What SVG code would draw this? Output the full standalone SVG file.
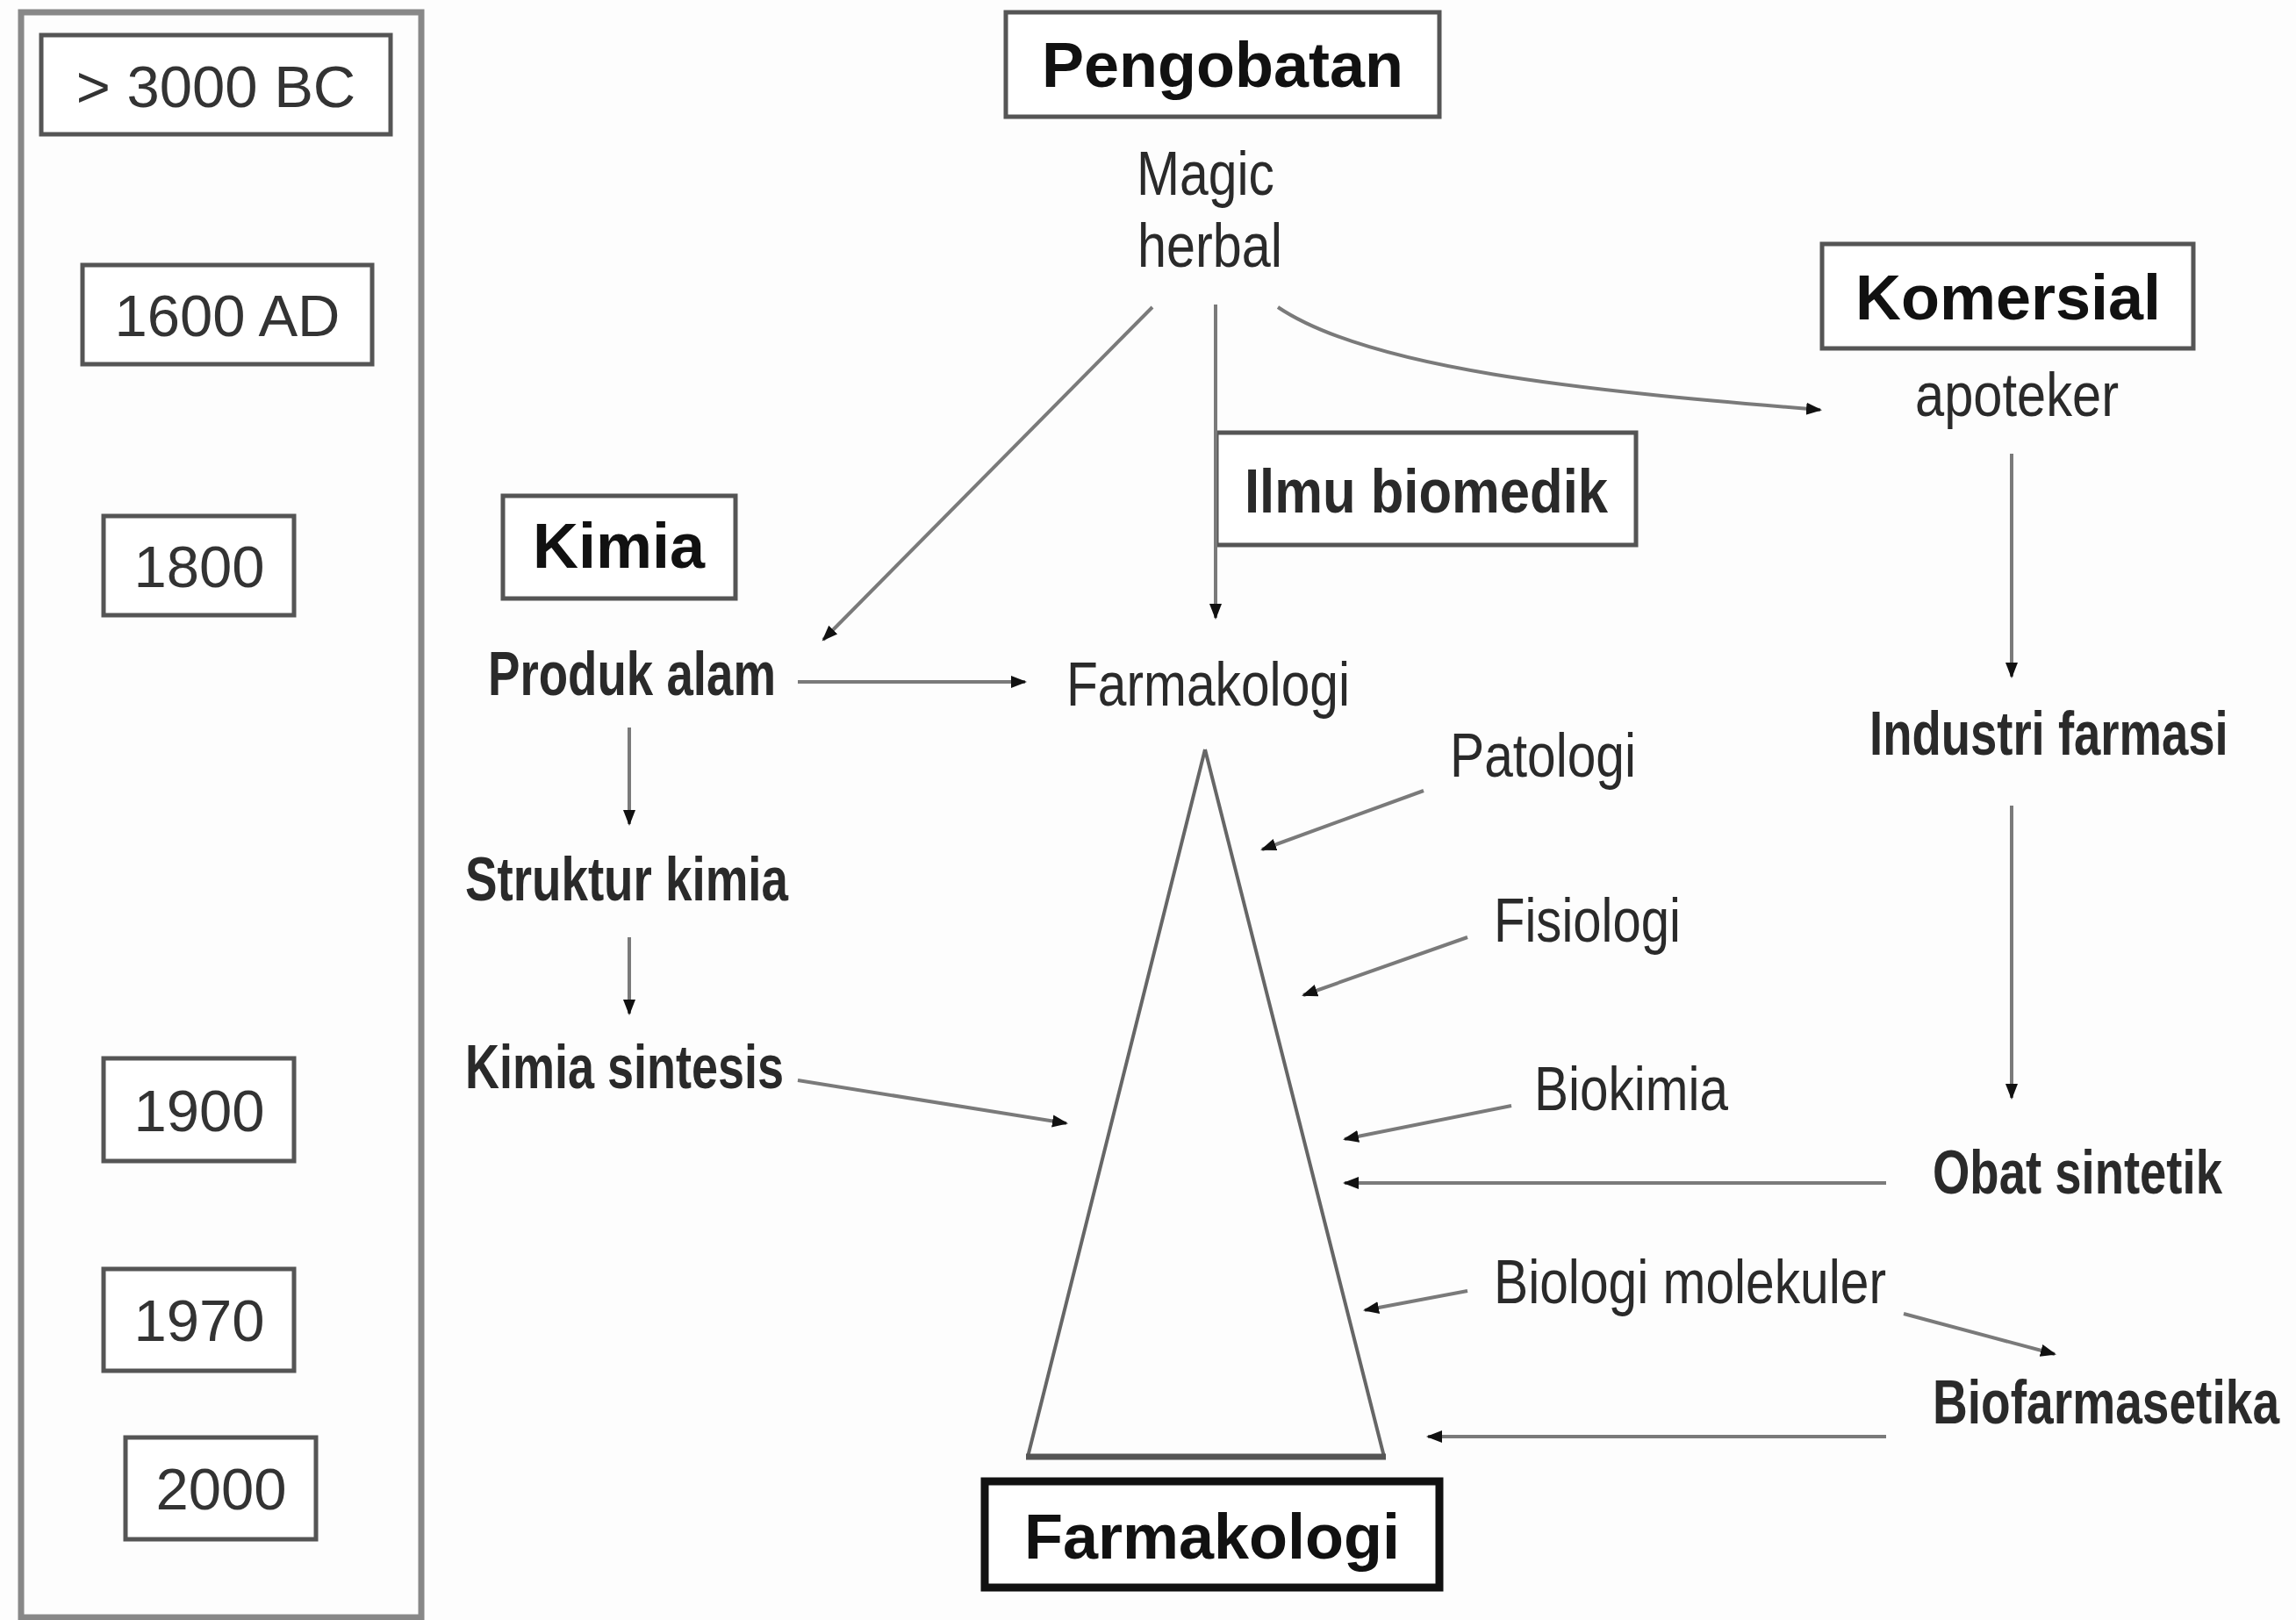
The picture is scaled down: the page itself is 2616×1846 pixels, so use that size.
<svg xmlns="http://www.w3.org/2000/svg" width="2616" height="1846" viewBox="0 0 2616 1846">
<style>
.bg{fill:#fdfdfd}
.yr{fill:#fff;stroke:#555;stroke-width:5}
.yt{font-family:"Liberation Sans",Arial,sans-serif;font-size:67px;fill:#333;text-anchor:middle}
.hd{fill:#fff;stroke:#555;stroke-width:5}
.ht{font-family:"Liberation Sans",Arial,sans-serif;font-weight:bold;font-size:72px;fill:#111;text-anchor:middle}
.lb{font-family:"Liberation Sans",Arial,sans-serif;font-size:70px;fill:#2a2a2a}
.lbb{font-family:"Liberation Sans",Arial,sans-serif;font-weight:bold;font-size:70px;fill:#2a2a2a}
.cn{fill:none;stroke:#7a7a7a;stroke-width:4}
</style>
<defs>
<marker id="ah" markerUnits="userSpaceOnUse" markerWidth="20" markerHeight="18" refX="16" refY="9" orient="auto">
<path d="M0,2 L18,9 L0,16 Z" fill="#111"/>
</marker>
</defs>
<rect class="bg" x="0" y="0" width="2616" height="1846"/>

<g id="timeline">
<rect x="24" y="14" width="456" height="1829" fill="none" stroke="#888" stroke-width="7"/>
</g>
<g id="y3000"><rect class="yr" x="47" y="40" width="398" height="113"/><text class="yt" x="246" y="122">&gt; 3000 BC</text></g>
<g id="y1600"><rect class="yr" x="94" y="302" width="330" height="113"/><text class="yt" x="259" y="383">1600 AD</text></g>
<g id="y1800"><rect class="yr" x="118" y="588" width="217" height="113"/><text class="yt" x="227" y="669">1800</text></g>
<g id="y1900"><rect class="yr" x="118" y="1206" width="217" height="117"/><text class="yt" x="227" y="1289">1900</text></g>
<g id="y1970"><rect class="yr" x="118" y="1446" width="217" height="116"/><text class="yt" x="227" y="1528">1970</text></g>
<g id="y2000"><rect class="yr" x="143" y="1638" width="217" height="116"/><text class="yt" x="252" y="1720">2000</text></g>

<g id="pengobatan"><rect class="hd" x="1146" y="14" width="494" height="119"/><text class="ht" x="1393" y="99">Pengobatan</text></g>
<g id="magic"><text class="lb" x="1295" y="222" textLength="157" lengthAdjust="spacingAndGlyphs">Magic</text><text class="lb" x="1296" y="304" textLength="165" lengthAdjust="spacingAndGlyphs">herbal</text></g>
<g id="komersial"><rect class="hd" x="2076" y="278" width="423" height="119"/><text class="ht" x="2288" y="364">Komersial</text></g>
<g id="apoteker"><text class="lb" x="2182" y="474" textLength="232" lengthAdjust="spacingAndGlyphs">apoteker</text></g>
<g id="industri"><text class="lbb" transform="translate(2130,860) scale(0.78,1)" x="0" y="0" textLength="524" lengthAdjust="spacingAndGlyphs">Industri farmasi</text></g>
<g id="obat"><text class="lbb" transform="translate(2202,1360) scale(0.78,1)" x="0" y="0" textLength="423" lengthAdjust="spacingAndGlyphs">Obat sintetik</text></g>
<g id="biofarmasetika"><text class="lbb" transform="translate(2202,1622) scale(0.83,1)" x="0" y="0" textLength="476" lengthAdjust="spacingAndGlyphs">Biofarmasetika</text></g>
<g id="ilmu"><rect class="hd" x="1386" y="493" width="478" height="128"/><text class="lbb" x="1418" y="584" textLength="414" lengthAdjust="spacingAndGlyphs">Ilmu biomedik</text></g>
<g id="kimia"><rect class="hd" x="573" y="565" width="265" height="117"/><text class="ht" x="705" y="647">Kimia</text></g>
<g id="produk"><text class="lbb" x="556" y="792" textLength="328" lengthAdjust="spacingAndGlyphs">Produk alam</text></g>
<g id="farmakologi-top"><text class="lb" x="1215" y="804" textLength="323" lengthAdjust="spacingAndGlyphs">Farmakologi</text></g>
<g id="struktur"><text class="lbb" x="530" y="1026" textLength="368" lengthAdjust="spacingAndGlyphs">Struktur kimia</text></g>
<g id="sintesis"><text class="lbb" x="530" y="1240" textLength="363" lengthAdjust="spacingAndGlyphs">Kimia sintesis</text></g>
<g id="patologi"><text class="lb" x="1652" y="885" textLength="212" lengthAdjust="spacingAndGlyphs">Patologi</text></g>
<g id="fisiologi"><text class="lb" x="1702" y="1073" textLength="213" lengthAdjust="spacingAndGlyphs">Fisiologi</text></g>
<g id="biokimia"><text class="lb" x="1748" y="1265" textLength="221" lengthAdjust="spacingAndGlyphs">Biokimia</text></g>
<g id="biomol"><text class="lb" x="1702" y="1485" textLength="447" lengthAdjust="spacingAndGlyphs">Biologi molekuler</text></g>
<g id="pyramid">
<path d="M1373,854 L1171,1660 M1373,854 L1577,1660" fill="none" stroke="#666" stroke-width="4"/>
<line x1="1169" y1="1660" x2="1579" y2="1660" stroke="#555" stroke-width="7"/>
</g>
<g id="farmakologi"><rect x="1122" y="1688" width="518" height="121" fill="#fff" stroke="#111" stroke-width="9"/><text class="ht" x="1381" y="1776">Farmakologi</text></g>

<g id="connectors">
<line class="cn" x1="1385" y1="347" x2="1385" y2="704" marker-end="url(#ah)"/>
<line class="cn" x1="1313" y1="350" x2="938" y2="729" marker-end="url(#ah)"/>
<path class="cn" d="M1456,350 C1560,420 1800,445 2074,467" marker-end="url(#ah)"/>
<line class="cn" x1="2292" y1="517" x2="2292" y2="771" marker-end="url(#ah)"/>
<line class="cn" x1="2292" y1="918" x2="2292" y2="1251" marker-end="url(#ah)"/>
<line class="cn" x1="2149" y1="1348" x2="1532" y2="1348" marker-end="url(#ah)"/>
<line class="cn" x1="2149" y1="1637" x2="1627" y2="1637" marker-end="url(#ah)"/>
<line class="cn" x1="909" y1="777" x2="1168" y2="777" marker-end="url(#ah)"/>
<line class="cn" x1="717" y1="829" x2="717" y2="939" marker-end="url(#ah)"/>
<line class="cn" x1="717" y1="1068" x2="717" y2="1155" marker-end="url(#ah)"/>
<line class="cn" x1="909" y1="1231" x2="1215" y2="1280" marker-end="url(#ah)"/>
<line class="cn" x1="1622" y1="901" x2="1438" y2="968" marker-end="url(#ah)"/>
<line class="cn" x1="1672" y1="1068" x2="1485" y2="1134" marker-end="url(#ah)"/>
<line class="cn" x1="1722" y1="1260" x2="1532" y2="1298" marker-end="url(#ah)"/>
<line class="cn" x1="1672" y1="1471" x2="1555" y2="1493" marker-end="url(#ah)"/>
<line class="cn" x1="2169" y1="1497" x2="2341" y2="1543" marker-end="url(#ah)"/>
</g>
</svg>
